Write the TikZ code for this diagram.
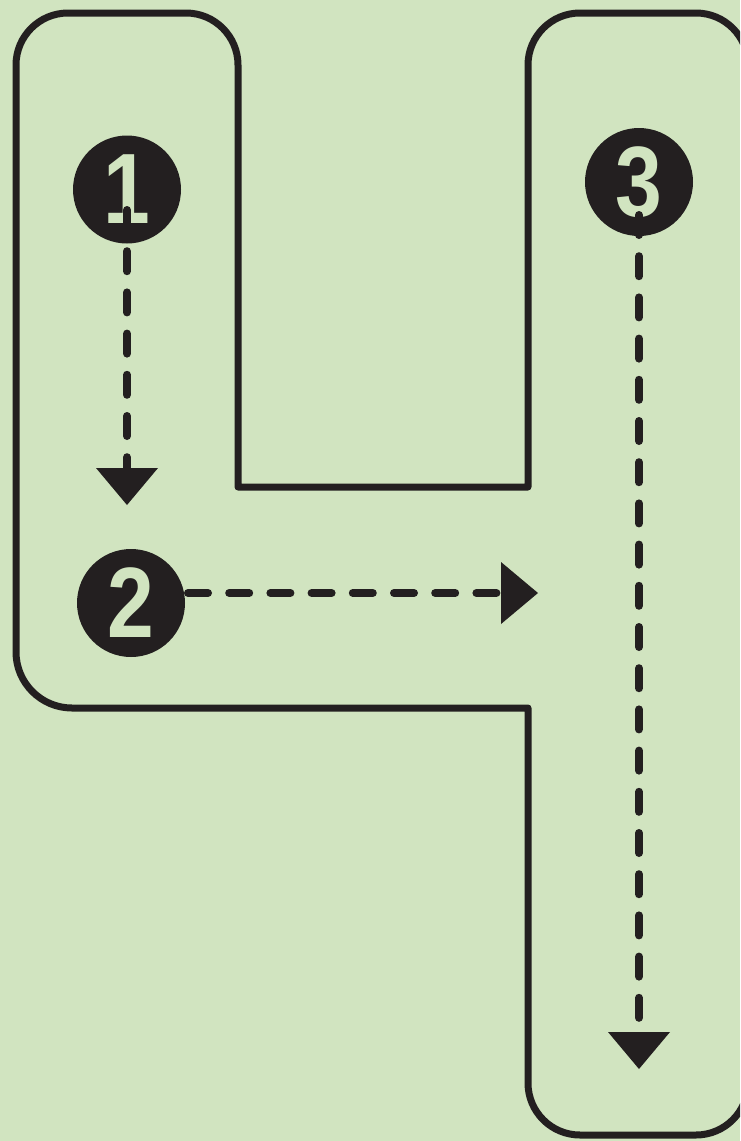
\documentclass[tikz,border=0pt]{standalone}
\usepackage{fontspec}
\setmainfont{Liberation Sans}
\usetikzlibrary{arrows.meta}
\definecolor{bg}{HTML}{D1E4C0}
\definecolor{ink}{HTML}{231F20}
\begin{document}
\begin{tikzpicture}[x=1pt,y=1pt,
  outline/.style={draw=ink, line width=7pt, line join=round},
  numcirc/.style={circle, fill=ink, minimum size=108pt, inner sep=0pt, text=bg,
    font=\fontsize{100}{100}\selectfont\bfseries},
  flow/.style={draw=ink, line width=8pt, line cap=round,
    dash pattern=on 20pt off 21.2pt,
    -{Triangle[length=37pt,width=62pt,line width=0pt]}}]
\useasboundingbox (0,0) rectangle (740,-1141);
\fill[bg] (0,0) rectangle (740,-1141);
\begin{scope}
\clip (0,0) rectangle (740,-1141);
\draw[outline] (16,-652) -- (16,-65)
  arc[start angle=180,end angle=90,radius=52pt] -- (186,-13)
  arc[start angle=90,end angle=0,radius=52pt] -- (238,-487)
  -- (528,-487) -- (528,-65)
  arc[start angle=180,end angle=90,radius=52pt] -- (696,-13)
  arc[start angle=90,end angle=0,radius=52pt] -- (748,-1083)
  arc[start angle=0,end angle=-90,radius=52pt] -- (580,-1135)
  arc[start angle=-90,end angle=-180,radius=52pt] -- (528,-708)
  -- (72,-708)
  arc[start angle=-90,end angle=-180,radius=56pt] -- cycle;
\end{scope}
\node[numcirc] (n1) at (127,-189.5) {\scalebox{0.84}[1]{1}};
\node[numcirc] (n2) at (131,-603) {\scalebox{0.84}[1]{2}};
\node[numcirc] (n3) at (639,-182) {\scalebox{0.84}[1]{3}};
\coordinate (s1) at (127,-210);
\coordinate (e1) at (127,-505);
\coordinate (s2) at (188,-593);
\coordinate (e2) at (538,-593);
\coordinate (s3) at (639,-215);
\coordinate (e3) at (639,-1069);
\draw[flow] (s1) -- (e1);
\draw[flow] (s2) -- (e2);
\draw[flow] (s3) -- (e3);
\end{tikzpicture}
\end{document}
